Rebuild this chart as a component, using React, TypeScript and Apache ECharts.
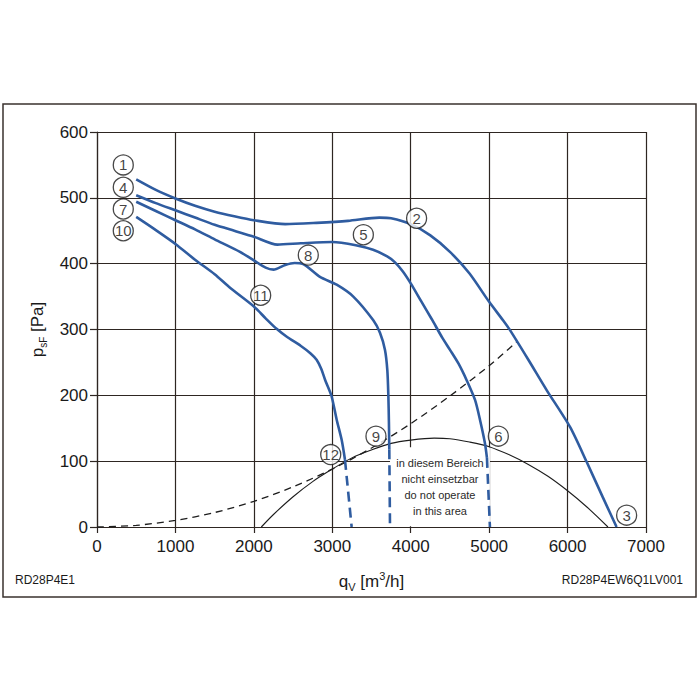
import React, { useEffect, useRef } from "react";
import * as echarts from "echarts";

const xTicks = [0, 1000, 2000, 3000, 4000, 5000, 6000, 7000];
const yTicks = [0, 100, 200, 300, 400, 500, 600];

// Curve 1-2-3
const curveA: number[][] = [
  [500, 528], [750, 512], [1000, 499], [1250, 488], [1500, 479], [1750, 472], [2000, 466],
  [2400, 460], [2800, 462], [3200, 465], [3600, 470], [3750, 469], [4000, 460], [4250, 443],
  [4500, 418], [4750, 385], [5000, 342], [5177, 314], [5266, 299], [5500, 254], [5733, 208],
  [6031, 152], [6243, 99], [6450, 45], [6625, 0],
];
// Curve 4-5-6
const curveB: number[][] = [
  [500, 504], [750, 492], [1000, 481], [1250, 470], [1500, 459], [1750, 450], [2000, 441],
  [2300, 429], [2600, 431], [3000, 433], [3300, 428], [3520, 421], [3700, 411], [3800, 402],
  [3900, 388], [4000, 370], [4133, 343], [4267, 316], [4400, 288], [4501, 269], [4610, 248],
  [4713, 223], [4820, 193], [4883, 163], [4947, 127], [4972, 105],
];
const curveBDash: number[][] = [[4972, 105], [5010, 0]];
// Curve 7-8-9
const curveC: number[][] = [
  [500, 494], [750, 480], [1000, 466], [1250, 452], [1500, 437], [1823, 418], [2000, 405],
  [2150, 394], [2250, 391], [2400, 398], [2520, 401], [2620, 400], [2843, 380], [3056, 368],
  [3268, 350], [3523, 314], [3608, 295], [3672, 269], [3702, 238], [3715, 199], [3722, 160],
  [3727, 118],
];
const curveCDash: number[][] = [[3727, 118], [3736, 0]];
// Curve 10-11-12
const curveD: number[][] = [
  [500, 471], [750, 451], [1000, 430], [1250, 406], [1500, 384], [1700, 363], [2000, 335],
  [2150, 317], [2290, 301], [2420, 289], [2600, 275], [2720, 264], [2800, 254], [2860, 240],
  [2910, 223], [2990, 199], [3056, 163], [3120, 132], [3162, 102],
];
const curveDDash: number[][] = [[3162, 102], [3247, 0]];
// Thin black arc
const limitCurve: number[][] = [
  [2095, 0], [2250, 19], [2500, 46], [2750, 69], [3000, 88], [3250, 105], [3500, 117],
  [3750, 127], [4000, 132], [4300, 135], [4500, 134], [4750, 129], [5000, 122], [5250, 110],
  [5500, 95], [5750, 77], [6000, 55], [6250, 30], [6515, 0],
];
// Dashed system curve
const systemCurve: number[][] = [
  [0, 0], [500, 2.5], [1000, 10], [1500, 22], [2000, 39], [2500, 61], [3000, 88],
  [3500, 120], [4000, 157], [4500, 199], [5000, 245], [5350, 281],
];
const circleLabels = [
  { name: "1", value: [335, 550] },
  { name: "4", value: [335, 516] },
  { name: "7", value: [335, 483] },
  { name: "10", value: [335, 450] },
  { name: "2", value: [4075, 469] },
  { name: "5", value: [3396, 444] },
  { name: "8", value: [2694, 413] },
  { name: "11", value: [2087, 352] },
  { name: "3", value: [6753, 18] },
  { name: "6", value: [5117, 138] },
  { name: "9", value: [3557, 138] },
  { name: "12", value: [2980, 110] },
];
const noOpArea = { x0: 3736, x1: 5010, y0: 1, y1: 121 };
const noOpText = ["in diesem Bereich", "nicht einsetzbar", "do not operate", "in this area"];

const BLUE = "#2f5ca0";
const GRID = "#2e2622";
const FONT = "Liberation Sans, Arial, Helvetica, sans-serif";

export default function App() {
  const ref = useRef<HTMLDivElement>(null);
  useEffect(() => {
    if (!ref.current) return;
    const chart = echarts.init(ref.current, null, { renderer: "svg" });
    const blueLine = (data: number[][], dashed = false) => ({
      type: "line",
      data,
      smooth: dashed ? false : 0.25,
      symbol: "none",
      z: 4,
      silent: true,
      lineStyle: { color: BLUE, width: 2.6, type: dashed ? [10, 6] : "solid" },
    });
    chart.setOption({
      animation: false,
      backgroundColor: "#ffffff",
      textStyle: { fontFamily: FONT },
      grid: { left: 97, top: 132, width: 549, height: 395, containLabel: false },
      xAxis: {
        type: "value",
        min: xTicks[0],
        max: xTicks[xTicks.length - 1],
        interval: 1000,
        axisLine: { show: true, lineStyle: { color: GRID, width: 1.2 } },
        axisTick: { show: true, length: 6, lineStyle: { color: GRID, width: 1.2 } },
        splitLine: { show: true, lineStyle: { color: GRID, width: 1.2 } },
        axisLabel: {
          fontSize: 17,
          color: "#1a1a1a",
          margin: 11,
          fontFamily: FONT,
          formatter: (v: number) => String(v),
        },
        name: "{m|q}{sub|V}{m| [m}{sup|3}{m|/h]}",
        nameLocation: "middle",
        nameGap: 43,
        nameTextStyle: {
          fontFamily: FONT,
          rich: {
            m: { fontSize: 17, color: "#1a1a1a", lineHeight: 22, fontFamily: FONT },
            sub: { fontSize: 11, color: "#1a1a1a", verticalAlign: "bottom", lineHeight: 14, fontFamily: FONT },
            sup: { fontSize: 11, color: "#1a1a1a", verticalAlign: "top", lineHeight: 12, fontFamily: FONT },
          },
        },
      },
      yAxis: {
        type: "value",
        min: yTicks[0],
        max: yTicks[yTicks.length - 1],
        interval: 100,
        axisLine: { show: true, lineStyle: { color: GRID, width: 1.2 } },
        axisTick: { show: true, length: 7, lineStyle: { color: GRID, width: 1.2 } },
        splitLine: { show: true, lineStyle: { color: GRID, width: 1.2 } },
        axisLabel: {
          fontSize: 17,
          color: "#1a1a1a",
          margin: 9,
          fontFamily: FONT,
          formatter: (v: number) => String(v),
        },
        name: "{m|p}{sub|sF}{m| [Pa]}",
        nameLocation: "middle",
        nameGap: 48,
        nameTextStyle: {
          fontFamily: FONT,
          rich: {
            m: { fontSize: 17, color: "#1a1a1a", lineHeight: 22, fontFamily: FONT },
            sub: { fontSize: 10, color: "#1a1a1a", verticalAlign: "bottom", lineHeight: 14, fontFamily: FONT },
          },
        },
      },
      series: [
        {
          type: "line",
          data: [],
          z: 1,
          silent: true,
          markArea: {
            silent: true,
            itemStyle: { color: "#ffffff" },
            label: {
              show: true,
              position: "inside",
              fontSize: 11,
              lineHeight: 16,
              color: "#2a2a2a",
              fontFamily: FONT,
              formatter: noOpText.join("\n"),
            },
            data: [[
              { coord: [noOpArea.x0, noOpArea.y0] },
              { coord: [noOpArea.x1, noOpArea.y1] },
            ]],
          },
        },
        {
          type: "line",
          data: limitCurve,
          smooth: 0.3,
          symbol: "none",
          z: 3,
          silent: true,
          lineStyle: { color: "#1d1d1d", width: 1.1 },
        },
        {
          type: "line",
          data: systemCurve,
          smooth: 0.3,
          symbol: "none",
          z: 3,
          silent: true,
          lineStyle: { color: "#1d1d1d", width: 1.3, type: [7, 5] },
        },
        blueLine(curveA),
        blueLine(curveB),
        blueLine(curveBDash, true),
        blueLine(curveC),
        blueLine(curveCDash, true),
        blueLine(curveD),
        blueLine(curveDDash, true),
        {
          type: "scatter",
          data: circleLabels,
          symbol: "circle",
          symbolSize: 20,
          z: 6,
          silent: true,
          itemStyle: { color: "#ffffff", borderColor: "#1a1a1a", borderWidth: 1.3 },
          label: {
            show: true,
            position: "inside",
            formatter: (p: any) => p.name,
            fontSize: 15,
            color: "#111",
            fontFamily: FONT,
          },
        },
      ],
      graphic: [
        {
          type: "rect",
          shape: { x: 3, y: 104, width: 693, height: 493 },
          style: { fill: "none", stroke: "#3a322e", lineWidth: 1.5 },
          z: 0,
        },
        {
          type: "text",
          left: 15,
          top: 574,
          style: { text: "RD28P4E1", fontSize: 12, fill: "#1a1a1a", fontFamily: FONT },
        },
        {
          type: "text",
          right: 17,
          top: 574,
          style: { text: "RD28P4EW6Q1LV001", fontSize: 12, fill: "#1a1a1a", fontFamily: FONT },
        },
      ],
    });
    return () => chart.dispose();
  }, []);
  return <div ref={ref} style={{ width: 700, height: 700, position: "absolute", left: 0, top: 0 }} />;
}
